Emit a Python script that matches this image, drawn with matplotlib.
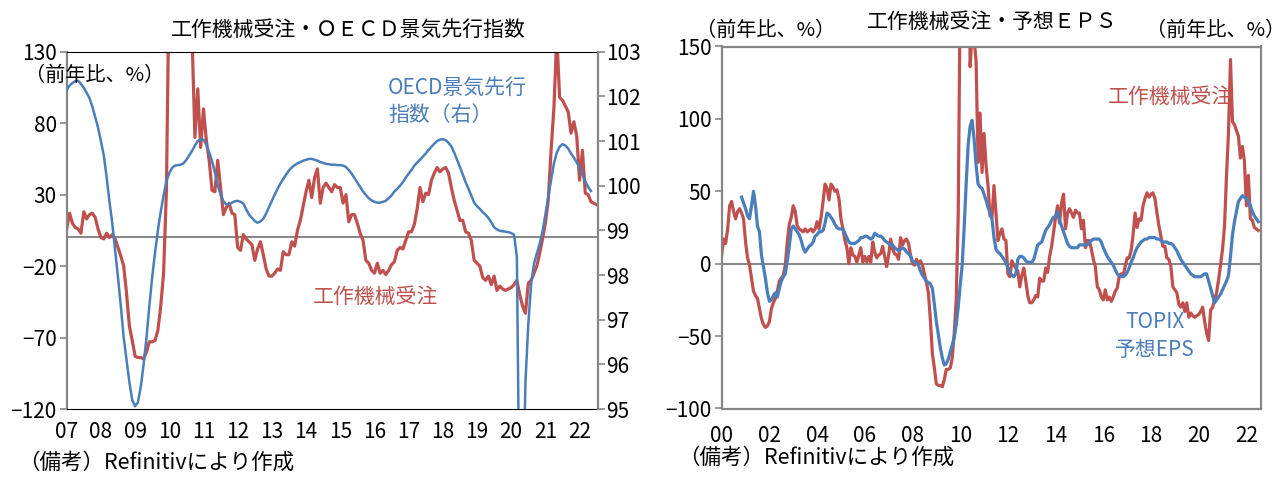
import numpy as np
import matplotlib.pyplot as plt

plt.rcParams['font.family'] = ['Liberation Sans Narrow', 'Noto Sans CJK JP', 'DejaVu Sans']

# 工作機械受注（前年比、%） 2000年1月～2022年7月
orders = [
    6, 17, 14, 24, 40, 43, 36, 31, 36, 38, 35, 31,
    15, 4, -1, -10, -19, -22, -24, -31, -38, -42, -44, -43,
    -40, -31, -27, -24, -19, -12, -10, -8, -1, 15, 27, 32,
    40, 36, 26, 24, 23, 22, 24, 22, 23, 24, 22, 24,
    29, 24, 32, 43, 55, 52, 44, 55, 53, 50, 51, 45,
    31, 24, 16, 11, 0, 11, 6, 5, 1, 6, 11, 1,
    5, 1, 5, 1, 15, 8, 4, 6, 7, 12, 5, -2,
    6, 17, 10, 7, 6, 3, 18, 13, 16, 17, 14, 6,
    0, -1, 3, 0, 2, -1, -7, -13, -20, -39, -62, -72,
    -83, -84, -84, -85, -80, -73, -73, -72, -65, -48, -25, 33,
    190, 180, 215, 210, 275, 136, 160, 155, 140, 70, 104, 63,
    90, 68, 54, 33, 32, 54, 35, 16, 21, 24, 17, 16,
    -7, -9, 2, -1, -3, -5, -16, -8, -3, -12, -22, -27,
    -27, -25, -22, -23, -10, -12, -12, -3, -6, 5, 12, 22,
    32, 40, 28, 42, 48, 24, 35, 38, 35, 32, 37, 35,
    35, 24, 30, 11, 16, 16, 10, 3, -2, -16, -18, -23,
    -25, -18, -25, -23, -26, -23, -19, -17, -9, -7, -8, -2,
    4, 4, 9, 20, 35, 25, 31, 30, 40, 45, 49, 46,
    48, 49, 45, 35, 26, 19, 12, 12, 4, 3, -2, -16,
    -18, -20, -28, -30, -27, -33, -27, -37, -34, -36, -37, -36,
    -35, -33, -30, -40, -48, -53, -32, -30, -25, -20, -11, -1,
    10, 26, 61, 91, 141, 98, 96, 92, 88, 73, 81, 71,
    40, 61, 31, 30, 25, 24, 23,
]

# OECD景気先行指数 2007年1月～2022年5月
cli = [
    102.14, 102.24, 102.30, 102.34, 102.35, 102.28, 102.19, 102.08, 101.96, 101.77, 101.54, 101.30,
    101.00, 100.68, 100.20, 99.65, 99.15, 98.55, 97.95, 97.30, 96.60, 96.10, 95.60, 95.20,
    95.06, 95.15, 95.50, 96.00, 96.60, 97.30, 97.95, 98.50, 99.00, 99.42, 99.78, 100.10,
    100.28, 100.40, 100.45, 100.46, 100.47, 100.50, 100.58, 100.68, 100.78, 100.90, 101.00, 101.04,
    101.03, 100.92, 100.75, 100.55, 100.30, 100.02, 99.80, 99.65, 99.58, 99.58, 99.62, 99.65,
    99.66, 99.64, 99.60, 99.47, 99.35, 99.28, 99.21, 99.17, 99.20, 99.26, 99.38, 99.52,
    99.66, 99.80, 99.93, 100.05, 100.15, 100.25, 100.34, 100.41, 100.46, 100.50, 100.53, 100.56,
    100.58, 100.60, 100.60, 100.58, 100.56, 100.53, 100.51, 100.49, 100.48, 100.47, 100.47, 100.46,
    100.46, 100.45, 100.42, 100.35, 100.27, 100.17, 100.07, 99.97, 99.87, 99.79, 99.72, 99.67,
    99.64, 99.62, 99.62, 99.64, 99.66, 99.72, 99.78, 99.87, 99.93, 100.00, 100.08, 100.18,
    100.27, 100.35, 100.45, 100.52, 100.58, 100.65, 100.72, 100.80, 100.87, 100.94, 101.00, 101.03,
    101.04, 101.02, 100.96, 100.88, 100.74, 100.58, 100.42, 100.25, 100.08, 99.93, 99.78, 99.62,
    99.54, 99.48, 99.41, 99.35, 99.28, 99.18, 99.07, 99.02, 98.99, 98.98, 98.97, 98.96,
    98.94, 98.90, 98.40, 92.00, 92.50, 95.60, 96.90, 97.80, 98.25, 98.48, 98.70, 98.98,
    99.35, 99.75, 100.12, 100.50, 100.74, 100.87, 100.93, 100.90, 100.83, 100.72, 100.63, 100.52,
    100.40, 100.25, 100.10, 99.97, 99.88,
]

# TOPIX予想EPS（前年比、%） 2000年11月～2022年7月
eps = [
    46, 42,
    38, 33, 31, 40, 50, 40, 26, 22, 6, -2, -10, -20,
    -26, -25, -22, -20, -23, -17, -12, -9, -7, 2, 12, 24,
    26, 24, 22, 20, 16, 11, 8, 10, 12, 13, 15, 19,
    20, 22, 22, 23, 28, 35, 34, 32, 30, 27, 25, 24,
    24, 24, 21, 18, 15, 14, 14, 14, 15, 16, 18, 18,
    19, 19, 18, 17, 18, 21, 20, 19, 19, 18, 16, 15,
    14, 13, 13, 11, 10, 9, 10, 11, 10, 8, 7, 5,
    2, 1, 0, -1, -5, -8, -10, -12, -13, -14, -17, -28,
    -40, -49, -58, -65, -70, -69, -66, -61, -56, -51, -42, -30,
    -15, -1, 25, 55, 82, 95, 99, 86, 68, 55, 53, 52,
    48, 44, 39, 35, 31, 18, 10, 8, 7, 5, 3, 1,
    -3, -6, -8, -9, -7, 3, 5, 5, 4, 2, 1, 1,
    1, 3, 8, 13, 14, 15, 19, 23, 25, 27, 30, 32,
    33, 36, 30, 26, 22, 18, 14, 12, 11, 11, 11, 11,
    13, 13, 13, 13, 13, 15, 16, 17, 17, 17, 17, 15,
    11, 8, 5, 3, 1, -1, -4, -7, -8, -9, -9, -8,
    -6, -3, 1, 4, 8, 11, 13, 15, 16, 17, 17, 18,
    18, 18, 18, 17, 17, 16, 15, 15, 15, 14, 14, 13,
    11, 9, 6, 3, 1, -1, -3, -5, -7, -8, -9, -9,
    -9, -9, -8, -7, -7, -12, -17, -22, -27, -25, -23, -21,
    -18, -15, -12, -8, 5, 20, 29, 36, 43, 45, 47, 46,
    45, 43, 40, 36, 33, 31, 29,
]

left_years = list(range(2007, 2023))
right_years = list(range(2000, 2023, 2))


def monthly(year, month, n):
    return year + (month - 1 + np.arange(n)) / 12


x_orders = monthly(2000, 1, len(orders))
x_cli = monthly(2007, 1, len(cli))
x_eps = monthly(2000, 11, len(eps))
orders = np.array(orders, dtype=float)

RED = '#C0504D'
BLUE = '#4A7EBB'
GRAY = '#868686'
W, H = 1287, 483

fig = plt.figure(figsize=(W / 100, H / 100), dpi=100)


def ftext(x, y, s, **kw):
    fig.text(x / W, 1 - y / H, s, **kw)


# 左：工作機械受注・OECD景気先行指数
ax1 = fig.add_axes([66.7 / W, 1 - 409 / H, 531 / W, 357.3 / H])
ax1r = ax1.twinx()
keep = x_orders >= 2007
ax1.axhline(0, color=GRAY, lw=1.4, zorder=1)
ax1.plot(x_orders[keep], orders[keep], color=RED, lw=2.3, zorder=2)
ax1r.plot(x_cli, cli, color=BLUE, lw=1.8)
ax1.set_xlim(2007, 2022.53)
ax1.set_ylim(-120, 130)
ax1r.set_ylim(95, 103)
ax1.set_yticks(np.arange(-120, 131, 50))
ax1r.set_yticks(np.arange(95, 104, 1))
ax1.set_xticks(left_years)
ax1.set_xticklabels([f'{y % 100:02d}' for y in left_years])

for s in ['top', 'bottom', 'left']:
    ax1r.spines[s].set_visible(False)
ax1.spines['right'].set_visible(False)
ax1.spines['top'].set_color('black')
ax1.spines['bottom'].set_color('black')
ax1.spines['left'].set_color(GRAY)
ax1.spines['left'].set_linewidth(1.6)
ax1r.spines['right'].set_color(GRAY)
ax1r.spines['right'].set_linewidth(1.6)
ax1.tick_params(axis='y', direction='out', length=5, width=1.2, color=GRAY, labelsize=15, pad=2)
ax1r.tick_params(axis='y', direction='out', length=5, width=1.2, color=GRAY, labelsize=15, pad=1)
ax1.tick_params(axis='x', length=0, labelsize=15, pad=9)

ftext(348, 30, '工作機械受注・ＯＥＣＤ景気先行指数', ha='center', va='center', fontsize=15)
ftext(25, 75, '（前年比、%）', ha='left', va='center', fontsize=14.5)
ftext(388, 88, 'OECD景気先行', ha='left', va='center', fontsize=15, color=BLUE)
ftext(388, 115, '指数（右）', ha='left', va='center', fontsize=15, color=BLUE)
ftext(313, 297, '工作機械受注', ha='left', va='center', fontsize=15, color=RED)
ftext(18, 463, '（備考）Refinitivにより作成', ha='left', va='center', fontsize=15.5)

# 右：工作機械受注・予想EPS
ax2 = fig.add_axes([721.7 / W, 1 - 408.5 / H, 539 / W, 362 / H])
ax2.axhline(0, color=GRAY, lw=1.4, zorder=1)
ax2.plot(x_orders, orders, color=RED, lw=2.3, zorder=2)
ax2.plot(x_eps, eps, color=BLUE, lw=2.3, zorder=3)
ax2.set_xlim(2000, 2022.6)
ax2.set_ylim(-100, 150)
ax2.set_yticks(np.arange(-100, 151, 50))
ax2.set_xticks(right_years)
ax2.set_xticklabels([f'{y % 100:02d}' for y in right_years])
for s in ax2.spines.values():
    s.set_color(GRAY)
    s.set_linewidth(1.6)
ax2.tick_params(axis='y', direction='out', length=5, width=1.2, color=GRAY, labelsize=15, pad=2)
ax2.tick_params(axis='x', length=0, labelsize=15, pad=12)

ftext(992, 22, '工作機械受注・予想ＥＰＳ', ha='center', va='center', fontsize=15)
ftext(696, 30, '（前年比、%）', ha='left', va='center', fontsize=14.5)
ftext(1146, 30, '（前年比、%）', ha='left', va='center', fontsize=14.5)
ftext(1108, 97, '工作機械受注', ha='left', va='center', fontsize=15, color=RED)
ftext(1125, 322, 'TOPIX', ha='left', va='center', fontsize=15, color=BLUE)
ftext(1115, 350, '予想EPS', ha='left', va='center', fontsize=15, color=BLUE)
ftext(678, 458, '（備考）Refinitivにより作成', ha='left', va='center', fontsize=15.5)

fig.savefig('out.png', dpi=100)
